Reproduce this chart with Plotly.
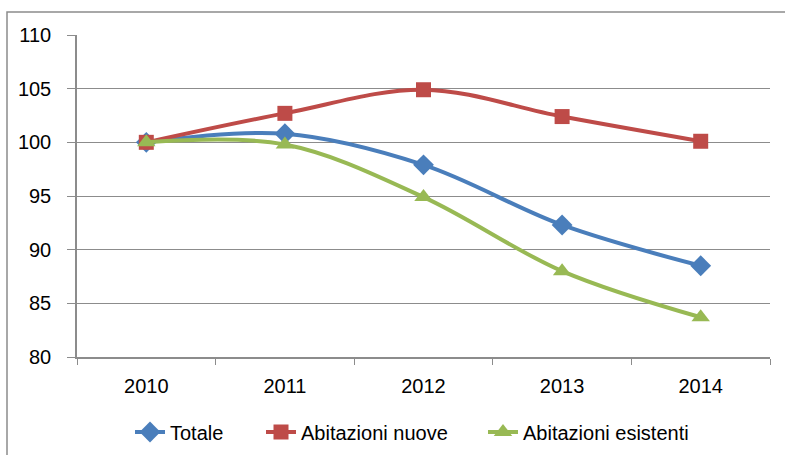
import plotly.graph_objects as go

years = ["2010", "2011", "2012", "2013", "2014"]
totale = [100.0, 100.8, 97.9, 92.3, 88.5]
nuove = [100.0, 102.7, 104.9, 102.4, 100.1]
esistenti = [100.0, 99.8, 94.9, 88.0, 83.7]
y_ticks = [80, 85, 90, 95, 100, 105, 110]

FONT = "Liberation Sans"
FS = 20
GRID = "#8c8c8c"

fig = go.Figure()
fig.add_trace(go.Scatter(x=years, y=totale, name="Totale", mode="lines+markers",
                         line=dict(color="#4A7EBB", width=4, shape="spline"),
                         marker=dict(symbol="diamond", size=16, color="#4A7EBB"),
                         legend="legend"))
fig.add_trace(go.Scatter(x=years, y=nuove, name="Abitazioni nuove", mode="lines+markers",
                         line=dict(color="#BE4B48", width=4, shape="spline"),
                         marker=dict(symbol="square", size=15, color="#BE4B48"),
                         legend="legend2"))
fig.add_trace(go.Scatter(x=years, y=esistenti, name="Abitazioni esistenti", mode="lines+markers",
                         line=dict(color="#98B954", width=4, shape="spline"),
                         marker=dict(symbol="triangle-up", size=16, color="#98B954"),
                         legend="legend3"))

W, H = 785, 455
L, R, T, B = 77, 15, 35, 98
pw, ph = W - L - R, H - T - B

def px_x(p):
    return (p - L) / pw

def px_y(p):
    return 1 - (p - T) / ph

fig.add_shape(type="rect", xref="paper", yref="paper",
              x0=px_x(7), x1=px_x(810), y0=px_y(480), y1=px_y(12),
              line=dict(color="#8c8c8c", width=1.5), fillcolor="rgba(0,0,0,0)", layer="below")

def leg(xpx):
    return dict(orientation="h", x=px_x(xpx), xanchor="left", y=px_y(432), yanchor="middle",
                font=dict(family=FONT, size=FS, color="black"), itemwidth=30,
                bgcolor="rgba(0,0,0,0)", borderwidth=0)

fig.update_layout(
    width=W, height=H,
    margin=dict(l=L, r=R, t=T, b=B, autoexpand=False),
    paper_bgcolor="white", plot_bgcolor="white",
    font=dict(family=FONT, size=FS, color="black"),
    showlegend=True,
    legend=leg(130),
    legend2=leg(261),
    legend3=leg(483),
    xaxis=dict(type="category", showgrid=False, showline=True, linecolor=GRID, linewidth=1.5,
               ticks="outside", tickson="boundaries", ticklen=6, tickcolor=GRID,
               range=[-0.5, 4.5], tickfont=dict(family=FONT, size=FS), ticklabelstandoff=10,
               automargin=False),
    yaxis=dict(range=[80, 110], tickvals=y_ticks, showgrid=True, gridcolor=GRID, gridwidth=1.2,
               showline=True, linecolor=GRID, linewidth=1.5, ticks="outside", ticklen=8,
               tickcolor=GRID, zeroline=False, tickfont=dict(family=FONT, size=FS),
               ticklabelstandoff=12, automargin=False),
)

fig.write_html("out.html", config={"displayModeBar": False},
               post_script="document.body.style.margin='0px';")
